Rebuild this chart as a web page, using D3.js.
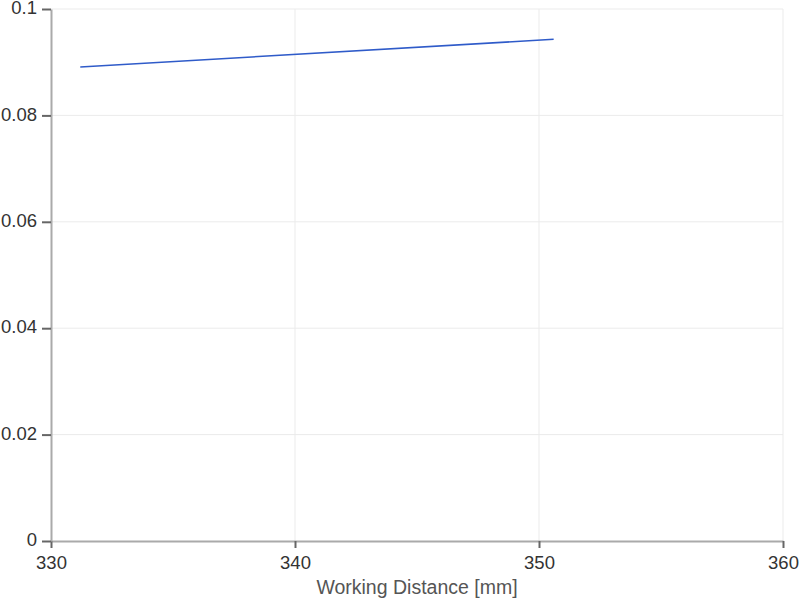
<!DOCTYPE html>
<html><head><meta charset="utf-8">
<script src="https://cdn.jsdelivr.net/npm/d3@7"></script>
<style>body{margin:0;background:#fff}svg{display:block}text{font-family:"Liberation Sans",Arial,sans-serif}</style>
</head><body>
<script>
const xValues = [331.2, 350.6];
const yValues = [0.0891, 0.0943];
const xTicks = [330, 340, 350, 360];
const yTicks = [0, 0.02, 0.04, 0.06, 0.08, 0.1];
const xLabel = "Working Distance [mm]";

const W = 800, H = 602;
const m = {left: 51, right: 17, top: 9, bottom: 61};
const svg = d3.select("body").append("svg").attr("width", W).attr("height", H);
const x = d3.scaleLinear().domain([330, 360]).range([m.left, W - m.right]);
const y = d3.scaleLinear().domain([0, 0.1]).range([H - m.bottom, m.top]);

// grid
svg.append("g").selectAll("line").data(xTicks.slice(1)).join("line")
  .attr("x1", d => x(d)).attr("x2", d => x(d)).attr("y1", y(0)).attr("y2", y(0.1))
  .attr("stroke", "#ebebeb").attr("stroke-width", 1);
svg.append("g").selectAll("line").data(yTicks.slice(1)).join("line")
  .attr("x1", x(330)).attr("x2", x(360)).attr("y1", d => y(d)).attr("y2", d => y(d))
  .attr("stroke", "#ebebeb").attr("stroke-width", 1);

// axes
const xa = svg.append("g").attr("transform", `translate(0,${y(0)})`)
  .call(d3.axisBottom(x).tickValues(xTicks).tickFormat(d3.format("d")).tickSize(7).tickSizeOuter(0));
const ya = svg.append("g").attr("transform", `translate(${x(330)},0)`)
  .call(d3.axisLeft(y).tickValues(yTicks).tickFormat(d => d === 0 ? "0" : d3.format("~g")(d)).tickSize(9).tickSizeOuter(0));
[xa, ya].forEach(a => {
  a.select(".domain").attr("stroke", "#aaa").attr("stroke-width", 2);
  a.selectAll(".tick line").attr("stroke", "#666").attr("stroke-width", 2);
  a.selectAll(".tick text").attr("fill", "#333").style("font-size", "18.5px")
   .style("font-family", '"Liberation Sans",Arial,sans-serif');
});
xa.selectAll(".tick text").attr("y", 0).attr("dy", 28);
ya.selectAll(".tick text").attr("x", -14).attr("dy", "0.25em");

// line
const pts = xValues.map((v, i) => [v, yValues[i]]);
svg.append("path").datum(pts)
  .attr("d", d3.line().x(d => x(d[0])).y(d => y(d[1])))
  .attr("fill", "none").attr("stroke", "#2f5bc9").attr("stroke-width", 1.5);

svg.append("text").attr("x", (x(330) + x(360)) / 2).attr("y", 594)
  .attr("text-anchor", "middle").attr("fill", "#555").style("font-size", "19.5px").text(xLabel);
</script>
</body></html>
